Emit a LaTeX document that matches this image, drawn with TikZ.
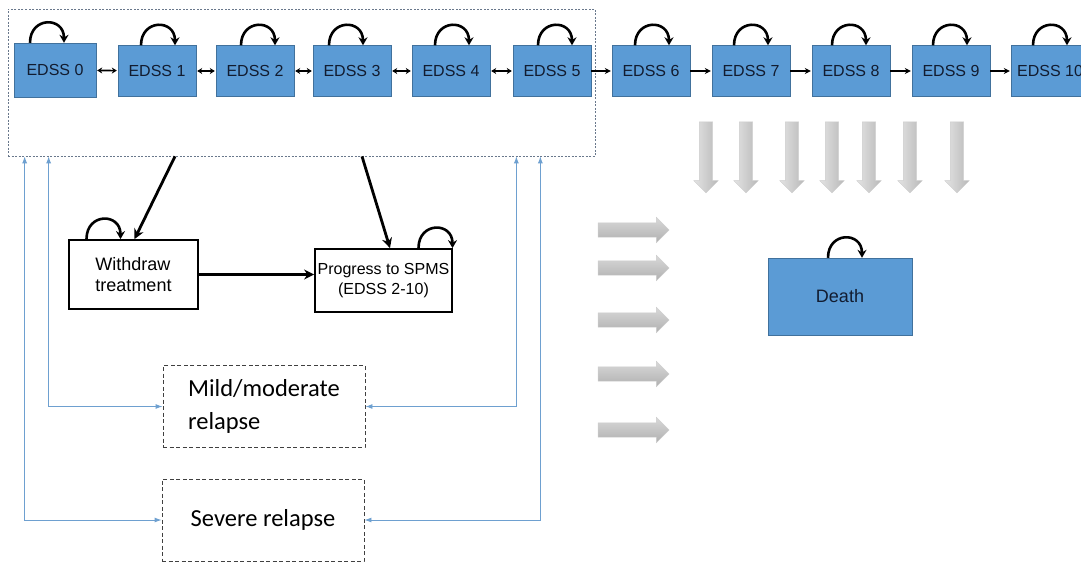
\documentclass[tikz,border=0pt]{standalone}
\usepackage{fontspec}
\setmainfont{Liberation Sans}
\newfontfamily\relfont{Carlito}
\usetikzlibrary{arrows.meta,shapes.arrows}
\definecolor{edssblue}{RGB}{91,155,213}
\definecolor{edssedge}{RGB}{65,113,156}
\definecolor{edsstext}{RGB}{18,28,48}
\definecolor{relblue}{RGB}{110,160,208}
\definecolor{grpedge}{RGB}{105,120,140}
\tikzset{
  edss/.style={draw=edssedge, fill=edssblue, text=edsstext, minimum width=78pt, minimum height=51pt, inner sep=0pt, font=\fontsize{16}{19}\selectfont},
  plainbox/.style={draw, line width=1.8pt, inner sep=0pt, font=\fontsize{18}{21}\selectfont},
  relapse/.style={draw=black!75, dash pattern=on 4pt off 2.5pt, line width=0.9pt, inner sep=0pt, minimum width=202pt, minimum height=82pt, font=\relfont\fontsize{24.5}{33}\selectfont},
  selfloop/.style={line width=2.6pt, -{Stealth[length=8pt,width=9pt]}},
  dlink/.style={line width=1.6pt, {Stealth[length=5pt,width=6pt]}-{Stealth[length=5pt,width=6pt]}, shorten <=1pt, shorten >=1pt},
  link/.style={line width=1.3pt, -{Stealth[length=6pt,width=6pt]}, shorten >=1pt},
  biglink/.style={line width=2.8pt, -{Stealth[length=10pt,width=10pt]}},
  relline/.style={relblue, line width=0.9pt, {Latex[length=7pt,width=5pt]}-{Latex[length=7pt,width=5pt]}},
  fatarrow/.style={single arrow, draw=gray!40, line width=0.4pt, minimum height=71pt, single arrow head extend=5.5pt},
  downarrow/.style={fatarrow, shape border rotate=270, inner ysep=0pt, inner xsep=6.5pt, left color=gray!22, middle color=white, right color=gray!55},
  rightarrow/.style={fatarrow, inner xsep=0pt, inner ysep=7pt, top color=gray!30, middle color=gray!4, bottom color=gray!62},
}
\begin{document}
\begin{tikzpicture}[x=1pt, y=1pt]
\useasboundingbox (0,0) rectangle (1081,-563);
\clip (0,0) rectangle (1081,-563);
% group of relapsing states
\node[draw=grpedge, dash pattern=on 2pt off 1.5pt, line width=0.7pt, minimum width=587pt, minimum height=147pt, inner sep=0pt] (grp) at (301.5,-82.5) {};
% EDSS states
\node[edss, minimum width=82pt, minimum height=54pt] (e0) at (55,-70) {EDSS 0};
\foreach \i/\x in {1/157,2/255,3/352,4/451,5/552,6/651,7/751,8/851,9/951,10/1050}
  \node[edss] (e\i) at (\x,-71) {EDSS \i};
\foreach \i/\j in {0/1,1/2,2/3,3/4,4/5}
  \draw[dlink] (e\i) -- (e\j);
\foreach \i/\j in {5/6,6/7,7/8,8/9,9/10}
  \draw[link] (e\i) -- (e\j);
% other states
\node[plainbox, minimum width=129pt, minimum height=69pt, align=left] (withdraw) at (133.5,-274.5) {Withdraw\\treatment};
\node[plainbox, minimum width=137pt, minimum height=63pt, align=center, font=\fontsize{16}{20}\selectfont] (spms) at (383.5,-280.5) {Progress to SPMS\\(EDSS 2-10)};
\node[edss, minimum width=144pt, minimum height=77pt, font=\fontsize{18}{21}\selectfont] (death) at (840,-296.5) {Death};
\node[relapse, align=left] (mild) at (264,-406.5) {Mild/moderate\\relapse};
\node[relapse] (severe) at (263,-520) {Severe relapse};
% self loops
\foreach \n/\dx in {e0/-8,e1/1,e2/3,e3/-6,e4/1,e5/3,e6/1,e7/0,e8/-2,e9/-1,e10/0,withdraw/-30,spms/52,death/5}
  \draw[selfloop] ([xshift={(\dx-17)*1pt}]\n.north) to[out=90,in=90,looseness=2] ([xshift={(\dx+17)*1pt}]\n.north);
% transitions out of the group
\draw[biglink] ([xshift=-126.5pt]grp.south) -- ([xshift=1pt]withdraw.north);
\draw[biglink] ([xshift=60.5pt]grp.south) -- ([xshift=6.5pt]spms.north);
\draw[biglink] (withdraw.east) -- (withdraw.east -| spms.west);
% relapses
\draw[relline] ([xshift=41pt]grp.south west) |- (mild.west);
\draw[relline] ([xshift=17pt]grp.south west) |- (severe.west);
\draw[relline] ([xshift=-79pt]grp.south east) |- (mild.east);
\draw[relline] ([xshift=-55pt]grp.south east) |- (severe.east);
% to death
\foreach \x [count=\k] in {706,746,792,832,869,910,957}
  \node[downarrow] (dv\k) at (\x,-154) {};
\foreach \y [count=\k] in {230,268,320,374,430}
  \node[rightarrow] (dh\k) at (630,-\y) {};
\end{tikzpicture}
\end{document}
